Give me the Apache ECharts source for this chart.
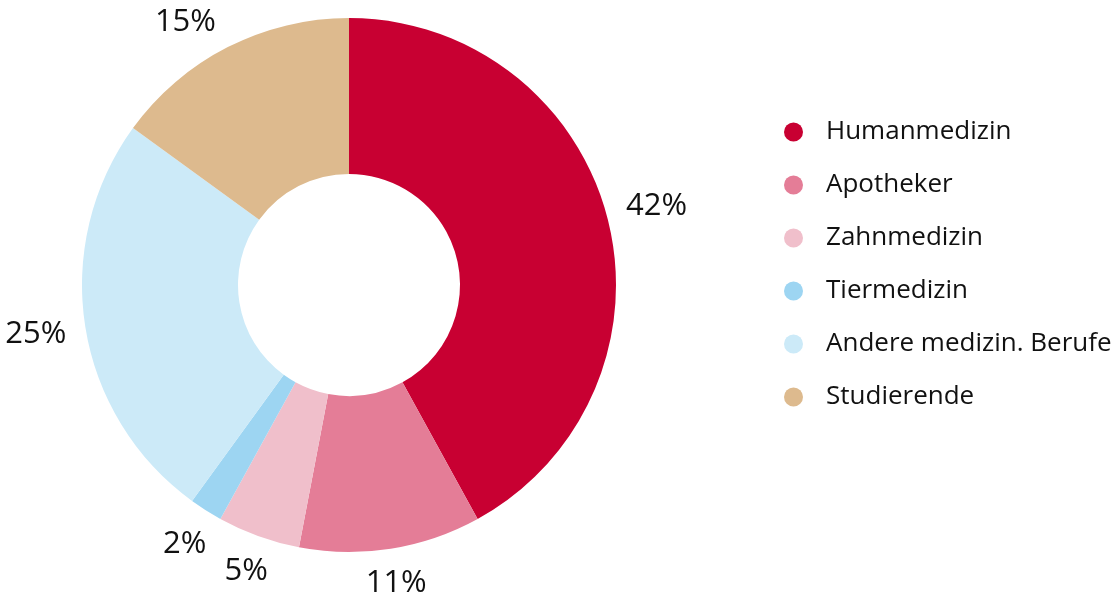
<!DOCTYPE html>
<html>
<head>
<meta charset="utf-8">
<script src="https://cdn.jsdelivr.net/npm/echarts@6/dist/echarts.min.js"></script>
<style>
  html, body { margin: 0; padding: 0; background: #fff; }
  #chart { width: 1119px; height: 599px; }
</style>
</head>
<body>
<div id="chart"></div>
<script>
// Kategorien und Anteile (%)
var categories = ["Humanmedizin", "Apotheker", "Zahnmedizin", "Tiermedizin", "Andere medizin. Berufe", "Studierende"];
var shares = [42, 11, 5, 2, 25, 15];
var colors = ["#C80032", "#E47D97", "#F0BFCB", "#9DD5F2", "#CCEAF8", "#DDBA8E"];

var cx = 349, cy = 285, rIn = 111, rOut = 267;
var labelSize = 31;
var labelGap = 18;
var edgeMargin = 10;

var total = shares.reduce(function (a, b) { return a + b; }, 0);
// Mittelwinkel jedes Segments (Radiant, im Uhrzeigersinn ab 12 Uhr)
var midAngles = [];
var acc = 0;
shares.forEach(function (v) {
  midAngles.push((acc + v / 2) / total * Math.PI * 2);
  acc += v;
});

var chart = echarts.init(document.getElementById("chart"));
chart.setOption({
  animation: false,
  textStyle: { fontFamily: "Open Sans" },
  legend: {
    orient: "vertical",
    left: 779,
    top: 114,
    icon: "circle",
    itemWidth: 19,
    itemHeight: 19,
    itemGap: 27,
    textStyle: { fontSize: 26, color: "#111", fontFamily: "Open Sans", padding: [0, 0, 0, 18] },
    data: categories
  },
  series: [
    {
      type: "pie",
      center: [cx, cy],
      radius: [rIn, rOut],
      startAngle: 90,
      clockwise: true,
      color: colors,
      label: {
        show: true,
        position: "outside",
        formatter: "{c}%",
        fontSize: labelSize,
        color: "#111",
        fontFamily: "Open Sans",
        overflow: "none"
      },
      labelLine: { show: false },
      // Label knapp ausserhalb des Rings; stoesst es oben an den Rand, rutscht es am Kreis entlang (wie Excel)
      labelLayout: function (p) {
        var a = midAngles[p.dataIndex];
        var s = Math.sin(a), c = Math.cos(a);
        var w = p.labelRect.width, h = labelSize * 0.78;
        var d = rOut + labelGap + w / 2 * Math.abs(s) + h / 2 * Math.abs(c);
        var minY = edgeMargin + h / 2;
        if (cy - d * c < minY) {
          c = (cy - minY) / d;
          s = (s < 0 ? -1 : 1) * Math.sqrt(1 - c * c);
        }
        return {
          x: cx + d * s,
          y: cy - d * c,
          align: "center",
          verticalAlign: "middle"
        };
      },
      data: categories.map(function (name, i) {
        return { name: name, value: shares[i] };
      })
    }
  ]
});
</script>
</body>
</html>
